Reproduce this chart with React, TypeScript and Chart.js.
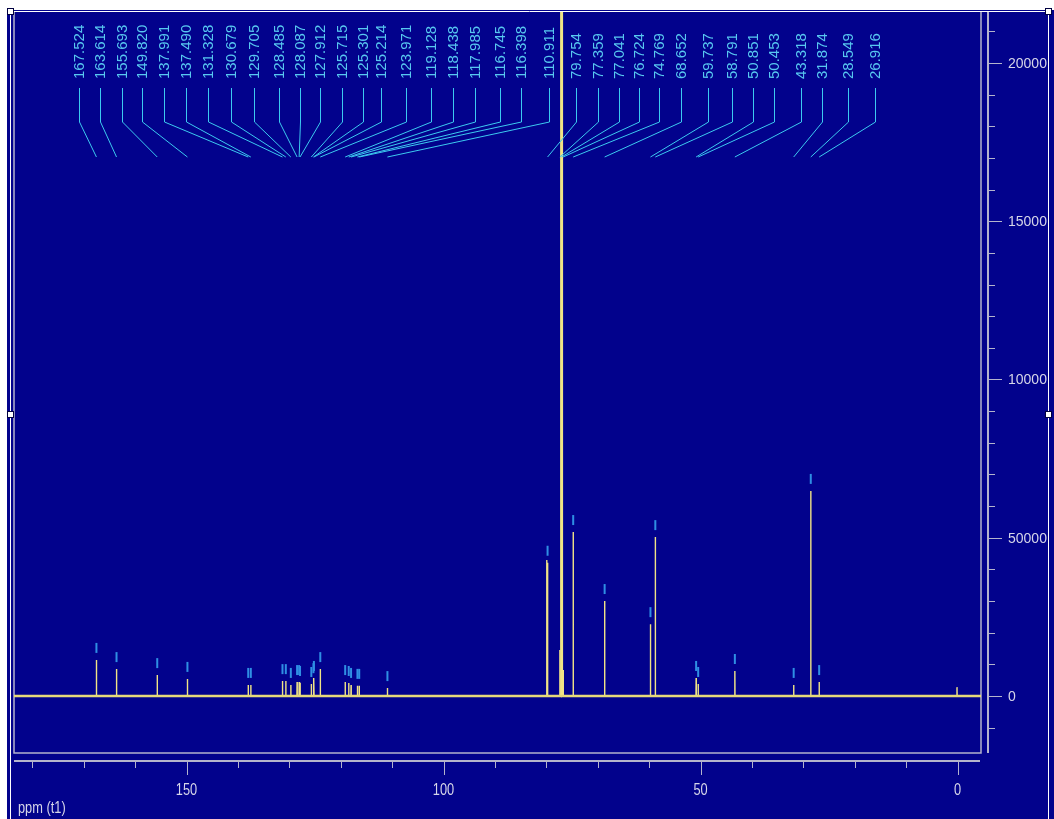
import React, { useEffect, useRef } from "react";
import { Chart, registerables } from "chart.js";

Chart.register(...registerables);

// 13C spectrum: picked peaks (ppm) with their intensities
const peakShifts = [
  167.524, 163.614, 155.693, 149.82, 137.991, 137.49, 131.328, 130.679, 129.705,
  128.485, 128.087, 127.912, 125.715, 125.301, 125.214, 123.971, 119.128, 118.438,
  117.985, 116.745, 116.398, 110.911, 79.754, 77.359, 77.041, 76.724, 74.769,
  68.652, 59.737, 58.791, 50.851, 50.453, 43.318, 31.874, 28.549, 26.916,
];
const peakIntensities = [
  1140, 850, 660, 540, 350, 350, 470, 470, 350,
  440, 440, 410, 380, 500, 570, 850, 440, 410,
  350, 320, 320, 250, 4210, 1450, 66000, 820, 5180,
  3000, 2270, 5020, 570, 380, 790, 350, 6480, 440,
];
const peakLabels = peakShifts.map((p) => p.toFixed(3));

// CDCl3 triplet: labelled, but without pick markers
const solventShifts = [77.359, 77.041, 76.724];

// Signals that carry no label
const extraShifts = [79.92, 0.1];
const extraIntensities = [4300, 280];

// Axis ticks
const xTickValues = [180, 170, 160, 150, 140, 130, 120, 110, 100, 90, 80, 70, 60, 50, 40, 30, 20, 10, 0];
const xTickLabels = ["150", "100", "50", "0"];
const xLabelValues = [150, 100, 50, 0];
const yTickValues = [-1000, 0, 1000, 2000, 3000, 4000, 5000, 6000, 7000, 8000, 9000, 10000, 11000, 12000, 13000, 14000, 15000, 16000, 17000, 18000, 19000, 20000, 21000];
const yLabelValues = [0, 5000, 10000, 15000, 20000];
const yTickLabels = ["0", "50000", "10000", "15000", "20000"];

// Axis ranges
const X_MIN = -4.57;
const X_MAX = 183.56;
const Y_MIN = -1801;
const Y_MAX = 21611;

// Horizontal slots (px) of the rotated peak labels, one per picked peak
const labelSlots = [
  79, 100, 122, 142, 164, 186, 208, 231, 254, 279, 300, 320, 342, 363, 381, 406, 431, 453,
  475, 500, 521, 549, 576, 598, 619, 639, 659, 681, 708, 732, 753, 774, 801, 822, 848, 875,
];

const BG = "#02028c";
const TRACE = "#f0e486";
const FRAME = "#b4b4cc";
const AXIS_TEXT = "#d6d6e8";
const LABEL = "#58c8f0";
const LEADER = "#3ccaf0";
const MARKER = "#2f8fe4";

const LINE_W = 0.03;

function buildTrace() {
  const all = peakShifts
    .map((p, i) => ({ p, h: peakIntensities[i] }))
    .concat(extraShifts.map((p, i) => ({ p, h: extraIntensities[i] })))
    .sort((a, b) => b.p - a.p);
  const pts: { x: number; y: number }[] = [{ x: X_MAX, y: 0 }];
  all.forEach(({ p, h }) => {
    pts.push({ x: p + LINE_W, y: 0 }, { x: p, y: h }, { x: p - LINE_W, y: 0 });
  });
  pts.push({ x: X_MIN, y: 0 });
  return pts;
}

const spectrumDecor = {
  id: "spectrumDecor",
  beforeDraw(chart: any) {
    const { ctx, chartArea: a } = chart;
    ctx.save();
    ctx.fillStyle = "#ffffff";
    ctx.fillRect(0, 0, chart.width, chart.height);
    ctx.fillStyle = BG;
    ctx.fillRect(7, 10, chart.width - 7, chart.height - 10);
    // plot frame
    ctx.strokeStyle = FRAME;
    ctx.lineWidth = 1.5;
    ctx.beginPath();
    ctx.moveTo(a.left, a.top);
    ctx.lineTo(a.left, a.bottom);
    ctx.lineTo(a.right, a.bottom);
    ctx.lineTo(a.right, a.top);
    ctx.stroke();
    ctx.restore();
  },
  afterDatasetsDraw(chart: any) {
    const { ctx, chartArea: a } = chart;
    const xs = chart.scales.x;
    const ys = chart.scales.y;
    ctx.save();

    // pick markers above each peak
    ctx.strokeStyle = MARKER;
    ctx.lineWidth = 2;
    peakShifts.forEach((p, i) => {
      if (solventShifts.includes(p)) return;
      const x = xs.getPixelForValue(p);
      const yTop = ys.getPixelForValue(peakIntensities[i]);
      ctx.beginPath();
      ctx.moveTo(x, yTop - 17);
      ctx.lineTo(x, yTop - 7);
      ctx.stroke();
    });

    // leader lines
    ctx.strokeStyle = LEADER;
    ctx.lineWidth = 1;
    peakShifts.forEach((p, i) => {
      const sx = labelSlots[i] + 0.5;
      const px = xs.getPixelForValue(p);
      ctx.beginPath();
      ctx.moveTo(sx, a.top + 76);
      ctx.lineTo(sx, a.top + 110);
      ctx.lineTo(px, a.top + 145);
      ctx.stroke();
    });

    // rotated peak labels
    ctx.fillStyle = LABEL;
    ctx.font = '15px "Liberation Sans", Arial, sans-serif';
    ctx.textAlign = "left";
    ctx.textBaseline = "alphabetic";
    peakLabels.forEach((t, i) => {
      ctx.save();
      ctx.translate(labelSlots[i], a.top + 67);
      ctx.rotate(-Math.PI / 2);
      ctx.fillText(t, 0, 5.4);
      ctx.restore();
    });

    // x axis
    const axY = a.bottom + 8;
    ctx.strokeStyle = FRAME;
    ctx.lineWidth = 2;
    ctx.beginPath();
    ctx.moveTo(a.left, axY);
    ctx.lineTo(a.right - 1, axY);
    ctx.stroke();
    ctx.lineWidth = 1;
    xTickValues.forEach((v) => {
      const x = Math.round(xs.getPixelForValue(v)) + 0.5;
      const len = v % 50 === 0 ? 14 : 7;
      ctx.beginPath();
      ctx.moveTo(x, axY);
      ctx.lineTo(x, axY + len);
      ctx.stroke();
    });
    ctx.fillStyle = AXIS_TEXT;
    ctx.font = '16px "Liberation Sans", Arial, sans-serif';
    ctx.textAlign = "center";
    ctx.textBaseline = "alphabetic";
    xLabelValues.forEach((v, i) => {
      const x = xs.getPixelForValue(v);
      ctx.save();
      ctx.translate(x, axY + 34);
      ctx.scale(0.8, 1);
      ctx.fillText(xTickLabels[i], 0, 0);
      ctx.restore();
    });
    ctx.save();
    ctx.translate(18, chart.height - 6);
    ctx.scale(0.8, 1);
    ctx.textAlign = "left";
    ctx.fillText("ppm (t1)", 0, 0);
    ctx.restore();

    // y axis on the right
    const ayX = a.right + 7;
    ctx.strokeStyle = FRAME;
    ctx.lineWidth = 2;
    ctx.beginPath();
    ctx.moveTo(ayX, a.top);
    ctx.lineTo(ayX, a.bottom);
    ctx.stroke();
    ctx.lineWidth = 1;
    yTickValues.forEach((v) => {
      const y = Math.round(ys.getPixelForValue(v)) + 0.5;
      const len = v % 5000 === 0 ? 14 : 7;
      ctx.beginPath();
      ctx.moveTo(ayX, y);
      ctx.lineTo(ayX + len, y);
      ctx.stroke();
    });
    ctx.font = '14px "Liberation Sans", Arial, sans-serif';
    ctx.textAlign = "left";
    ctx.textBaseline = "middle";
    yLabelValues.forEach((v, i) => {
      ctx.fillText(yTickLabels[i], ayX + 20, ys.getPixelForValue(v) + 1);
    });

    // selection frame with handles
    ctx.strokeStyle = "#ffffff";
    ctx.lineWidth = 1;
    ctx.beginPath();
    ctx.moveTo(10.5, chart.height);
    ctx.lineTo(10.5, 11.5);
    ctx.lineTo(1048.5, 11.5);
    ctx.lineTo(1048.5, chart.height);
    ctx.stroke();
    const handles = [
      [10.5, 11.5],
      [1048.5, 11.5],
      [10.5, 414.5],
      [1048.5, 414.5],
    ];
    handles.forEach(([hx, hy]) => {
      ctx.fillStyle = "#ffffff";
      ctx.fillRect(hx - 3, hy - 3, 6, 6);
      ctx.strokeStyle = "#000040";
      ctx.strokeRect(hx - 3, hy - 3, 6, 6);
    });
    ctx.restore();
  },
};

export default function App() {
  const ref = useRef<HTMLCanvasElement | null>(null);

  useEffect(() => {
    if (!ref.current) return;
    const baseline = [
      { x: X_MAX, y: 0 },
      { x: X_MIN, y: 0 },
    ];
    const chart = new Chart(ref.current, {
      type: "line",
      data: {
        datasets: [
          {
            data: baseline,
            borderColor: "#e6d97a",
            borderWidth: 2.5,
            pointRadius: 0,
          },
          {
            data: buildTrace(),
            borderColor: TRACE,
            borderWidth: 1.4,
            borderJoinStyle: "bevel",
            pointRadius: 0,
            segment: {
              borderWidth: (c: any) =>
                Math.max(c.p0.parsed.y, c.p1.parsed.y) > Y_MAX ? 3 : 1.4,
            },
          },
        ],
      },
      options: {
        animation: false,
        responsive: false,
        devicePixelRatio: 1,
        events: [],
        layout: { padding: { left: 14, top: 12, right: 73, bottom: 66 } },
        plugins: { legend: { display: false }, tooltip: { enabled: false } },
        scales: {
          x: { type: "linear", reverse: true, min: X_MIN, max: X_MAX, display: false },
          y: { type: "linear", min: Y_MIN, max: Y_MAX, display: false },
        },
      },
      plugins: [spectrumDecor],
    } as any);
    return () => chart.destroy();
  }, []);

  return (
    <div style={{ position: "absolute", left: 0, top: 0, width: 1054, height: 819 }}>
      <canvas ref={ref} width={1054} height={819} style={{ display: "block", width: 1054, height: 819 }} />
    </div>
  );
}
